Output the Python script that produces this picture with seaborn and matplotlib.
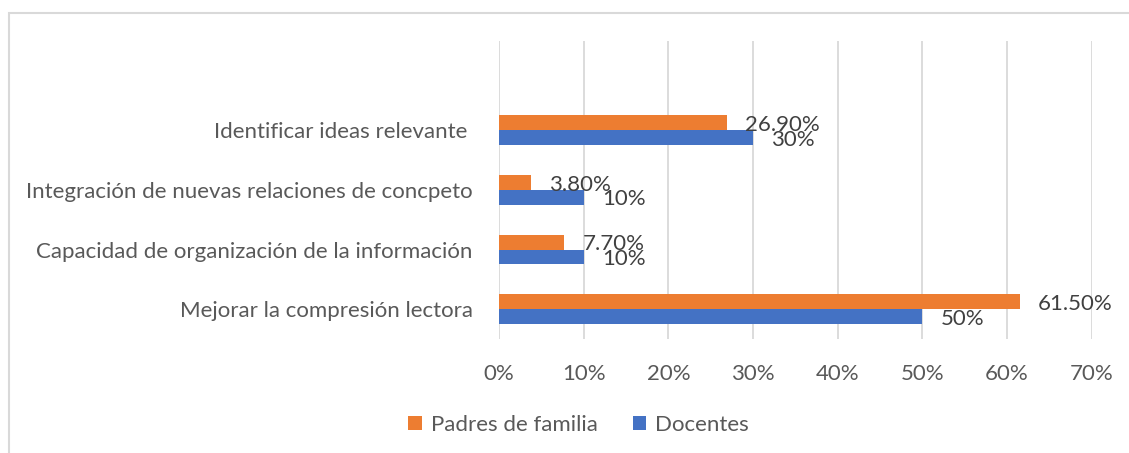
import pandas as pd
import seaborn as sns
import matplotlib.pyplot as plt
from matplotlib.patches import Rectangle

categorias = [
    "Identificar ideas relevante ",
    "Integración de nuevas relaciones de concpeto",
    "Capacidad de organización de la información",
    "Mejorar la compresión lectora",
]
padres = [26.9, 3.8, 7.7, 61.5]
docentes = [30, 10, 10, 50]
etiquetas_padres = ["26.90%", "3.80%", "7.70%", "61.50%"]
etiquetas_docentes = ["30%", "10%", "10%", "50%"]
series = ["Padres de familia", "Docentes"]
colores = ["#ED7D31", "#4472C4"]

df = pd.DataFrame({
    "categoria": categorias * 2,
    "valor": padres + docentes,
    "serie": [series[0]] * 4 + [series[1]] * 4,
})

sns.set_style("white")
plt.rcParams["font.family"] = ["Lato", "DejaVu Sans"]
gris = "#595959"
fs = 16

fig = plt.figure(figsize=(11.29, 4.53), dpi=100)
ax = fig.add_axes([0.442, 0.2517, 0.525, 0.658])

sns.barplot(data=df, y="categoria", x="valor", hue="serie", order=categorias,
            hue_order=series, palette=colores, width=0.5, gap=0,
            orient="h", ax=ax, saturation=1, edgecolor="none")

ax.set_xlim(0, 70)
ax.set_ylim(3.5, -1.5)
ax.set_xticks(range(0, 71, 10))
ax.set_xticklabels([f"{v}%" for v in range(0, 71, 10)])
ax.set_xlabel("")
ax.set_ylabel("")
ax.grid(axis="x", color="#D9D9D9", linewidth=1.3)
ax.set_axisbelow(True)
for s in ax.spines.values():
    s.set_visible(False)
ax.tick_params(axis="x", length=0, pad=18, labelsize=fs, labelcolor=gris)
ax.tick_params(axis="y", length=0, pad=19, labelsize=fs, labelcolor=gris)

for cont, labs in zip(ax.containers, [etiquetas_padres, etiquetas_docentes]):
    anns = ax.bar_label(cont, labels=labs, padding=13, fontsize=fs, color="#404040")
    for a in anns:
        a.xyann = (13, -1.5)

ax.legend(loc="center", bbox_to_anchor=(0.5125, 0.062), bbox_transform=fig.transFigure,
          ncol=2, frameon=False, fontsize=fs, labelcolor=gris, handlelength=0.6,
          handleheight=0.6, columnspacing=1.6, handletextpad=0.4)

fig.patches.append(Rectangle((9 / 1129, -0.1), 1.2, 1 - 12.5 / 453 + 0.1,
                             transform=fig.transFigure, fill=False,
                             edgecolor="#D9D9D9", linewidth=1.5))

fig.savefig("out.png", dpi=100)
